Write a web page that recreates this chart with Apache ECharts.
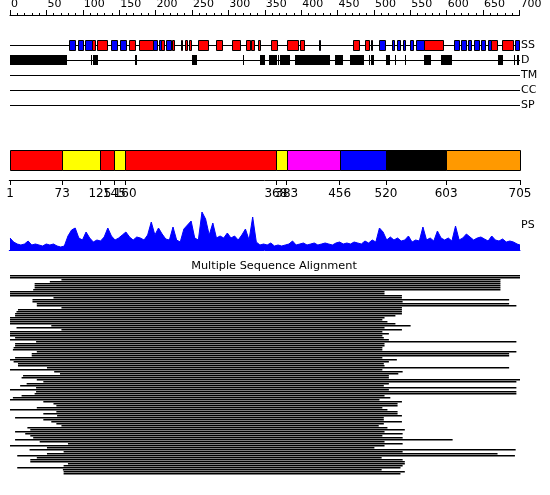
<!DOCTYPE html>
<html><head><meta charset="utf-8">
<script src="https://cdn.jsdelivr.net/npm/echarts@6/dist/echarts.min.js"></script>
<style>html,body{margin:0;padding:0;background:#fff}#c{width:550px;height:495px}</style>
</head><body><div id="c"></div>
<script>
const seqLength = 705;
const trackNames = ['SS', 'D', 'TM', 'CC', 'SP'];
const helices = [[114,118],[121,135],[165,173],[179,198],[210,213],[225,228],[237,238],[243,246],[248,251],[261,275],[286,294],[308,318],[327,332],[334,338],[343,346],[361,369],[384,398],[401,407],[475,483],[491,496],[499,500],[572,599],[665,673],[680,696]];
const strands = [[83,91],[95,102],[105,114],[141,149],[153,161],[198,204],[207,210],[217,223],[427,429],[511,519],[528,531],[535,539],[543,546],[553,557],[562,572],[614,621],[623,630],[633,638],[641,649],[651,657],[661,665],[698,704]];
const disorder = [[1,79],[113,114],[116,122],[174,176],[252,259],[322,324],[346,353],[358,369],[371,372],[374,388],[394,443],[449,461],[471,490],[496,498],[500,504],[520,526],[532,533],[546,547],[572,582],[596,611],[674,682],[697,698],[701,704]];
const domainBounds = [1,73,125,145,160,368,383,456,520,603,705];
const domainColors = ['#FF0000','#FFFF00','#FF0000','#FFFF00','#FF0000','#FFFF00','#FF00FF','#0000FF','#000000','#FF9900'];
const psStep = 5;
const psValues = [12,8,6,5,6,9,5,6,5,4, 6,5,6,4,3,4,14,20,22,12, 10,18,12,8,10,9,13,22,14,10, 12,15,18,13,10,13,12,10,15,28, 15,22,16,11,10,23,10,8,21,25, 29,12,10,38,31,15,27,12,14,12, 17,12,14,10,15,21,10,33,8,5, 6,5,7,4,5,4,5,6,9,5, 6,7,5,6,7,5,6,7,6,5, 7,8,6,7,6,8,7,6,9,7, 10,8,22,18,10,13,10,12,9,10, 14,8,10,9,23,10,12,9,19,12, 10,12,9,24,10,12,16,13,10,12, 13,11,9,14,10,9,11,8,9,8, 6,5];
const msaStarts = [1,1,72,56,35,35,35,33,1,1,1,61,32,32,38,38,72,12,10,8,8,1,1,1,1,58,10,72,1,1,1,8,1,37,8,8,6,5,38,31,31,8,1,6,12,12,52,1,
  62,70,19,17,38,47,24,15,37,1,37,35,17,5,1,47,61,65,38,1,65,47,66,8,47,58,65,72,25,29,8,22,29,33,8,42,81,1,52,28,75,52,11,38,29,29,81,75,11,74,75,75];
const msaEnds = [705,705,678,678,678,678,678,678,518,518,542,542,690,543,690,700,542,542,542,542,533,518,515,522,533,554,518,542,515,524,515,517,524,700,518,518,515,515,700,690,690,515,535,524,517,518,690,515,
  543,537,524,524,705,700,524,517,700,524,700,700,518,526,511,542,536,536,515,522,536,536,542,517,517,542,517,510,522,546,518,543,515,543,612,518,543,518,504,699,543,674,698,514,543,546,546,543,540,514,546,540];
const msaTitle = 'Multiple Sequence Alignment';

const FONT = 'DejaVu Sans';
const chart = echarts.init(document.getElementById('c'), null, {renderer: 'canvas', width: 550, height: 495});

function boxRender(fillFn, half, h, stroke) {
  return function (params, api) {
    const a = api.coord([api.value(0), api.value(2)]);
    const b = api.coord([api.value(1), api.value(2)]);
    const x1 = Math.round(a[0]);
    const w = Math.max(1, Math.round(b[0]) - x1);
    const yc = Math.round(a[1]);
    return {
      type: 'rect',
      shape: {x: stroke ? x1 + 0.5 : x1, y: stroke ? yc - half + 0.5 : yc - half, width: w, height: h},
      style: {fill: fillFn(api), stroke: stroke ? '#000' : null, lineWidth: 1}
    };
  };
}

const hidden = {show: false};
const baseX = (gi) => ({type: 'value', gridIndex: gi, min: 0, max: seqLength, show: false});

const option = {
  animation: false,
  backgroundColor: '#fff',
  textStyle: {fontFamily: FONT},
  grid: [
    {left: 10, right: 30.5, top: 5, height: 10},
    {left: 9.28, right: 30, top: 37.5, height: 75},
    {left: 9.28, right: 30, top: 150, height: 20},
    {left: 9.28, right: 30, top: 150, height: 30},
    {left: 9.28, right: 30, top: 210, height: 40},
    {left: 9.28, right: 30, top: 274, height: 200}
  ],
  xAxis: [
    {type: 'value', gridIndex: 0, min: 0, max: 700, interval: 50, position: 'bottom',
      axisLine: {show: true, lineStyle: {color: '#000', width: 1}},
      axisTick: {show: true, inside: true, length: 5, lineStyle: {color: '#000'}},
      minorTick: {show: true, splitNumber: 5, length: 2, lineStyle: {color: '#000'}},
      axisLabel: {inside: true, margin: 5, align: 'left', fontSize: 11, color: '#000', fontFamily: FONT, padding: [0, 0, 0, 1]},
      splitLine: {show: false}},
    baseX(1),
    baseX(2),
    {type: 'value', gridIndex: 3, min: 0, max: seqLength, position: 'bottom',
      axisLine: {show: true, lineStyle: {color: '#000', width: 1}},
      axisTick: {show: true, length: 5, customValues: domainBounds, lineStyle: {color: '#000'}},
      axisLabel: {margin: 8, fontSize: 12, color: '#000', fontFamily: FONT, customValues: domainBounds},
      splitLine: {show: false}},
    {type: 'value', gridIndex: 4, min: 0, max: seqLength, position: 'bottom',
      axisLine: {show: true, lineStyle: {color: '#0000FF', width: 1}},
      axisTick: hidden, axisLabel: hidden, splitLine: hidden},
    baseX(5)
  ],
  yAxis: [
    {type: 'value', gridIndex: 0, show: false},
    {type: 'category', gridIndex: 1, data: trackNames, inverse: true, position: 'right',
      axisLine: hidden, axisTick: hidden, splitLine: hidden,
      axisLabel: {margin: 1, fontSize: 11, color: '#000', fontFamily: FONT}},
    {type: 'value', gridIndex: 2, min: 0, max: 1, show: false},
    {type: 'value', gridIndex: 3, min: 0, max: 1, show: false},
    {type: 'value', gridIndex: 4, min: 0, max: 40, show: false},
    {type: 'value', gridIndex: 5, min: -0.5, max: msaStarts.length - 0.5, inverse: true, show: false}
  ],
  graphic: [
    {type: 'text', x: 521, y: 225.5, style: {text: 'PS', font: '11px "' + FONT + '"', fill: '#000', textAlign: 'left', textVerticalAlign: 'middle'}},
    {type: 'text', x: 274, y: 266, style: {text: msaTitle, font: '11.3px "' + FONT + '"', fill: '#000', textAlign: 'center', textVerticalAlign: 'middle'}}
  ],
  series: [
    {type: 'custom', xAxisIndex: 1, yAxisIndex: 1, z: 1,
      data: trackNames.map((n, i) => [1, seqLength, i]),
      encode: {x: [0, 1], y: 2},
      renderItem: function (params, api) {
        const a = api.coord([api.value(0), api.value(2)]);
        const b = api.coord([api.value(1), api.value(2)]);
        const y = Math.round(a[1]) + 0.5;
        return {type: 'line', shape: {x1: Math.round(a[0]), y1: y, x2: Math.round(b[0]), y2: y}, style: {stroke: '#000', lineWidth: 1}};
      }},
    {type: 'custom', xAxisIndex: 1, yAxisIndex: 1, z: 2,
      data: helices.map(d => [d[0], d[1], 0]), encode: {x: [0, 1], y: 2},
      renderItem: boxRender(() => '#FF0000', 5, 10, true)},
    {type: 'custom', xAxisIndex: 1, yAxisIndex: 1, z: 2,
      data: strands.map(d => [d[0], d[1], 0]), encode: {x: [0, 1], y: 2},
      renderItem: boxRender(() => '#0000FF', 5, 10, true)},
    {type: 'custom', xAxisIndex: 1, yAxisIndex: 1, z: 2,
      data: disorder.map(d => [d[0], d[1], 1]), encode: {x: [0, 1], y: 2},
      renderItem: boxRender(() => '#000000', 5, 10, false)},
    {type: 'custom', xAxisIndex: 2, yAxisIndex: 2, z: 2,
      data: domainColors.map((c, i) => [domainBounds[i], domainBounds[i + 1], i]), encode: {x: [0, 1]},
      renderItem: function (params, api) {
        const a = api.coord([api.value(0), 1]);
        const b = api.coord([api.value(1), 0]);
        const x1 = Math.round(a[0]) + 0.5;
        return {type: 'rect', shape: {x: x1, y: Math.round(a[1]) + 0.5, width: Math.round(b[0]) - Math.round(a[0]), height: Math.round(b[1]) - Math.round(a[1])},
          style: {fill: domainColors[api.value(2)], stroke: '#000', lineWidth: 1}};
      }},
    {type: 'line', xAxisIndex: 4, yAxisIndex: 4, z: 2, showSymbol: false, symbol: 'none',
      data: psValues.map((v, i) => [Math.min(1 + i * psStep, seqLength), v]),
      lineStyle: {color: '#0000FF', width: 1}, areaStyle: {color: '#0000FF', opacity: 1}},
    {type: 'custom', xAxisIndex: 5, yAxisIndex: 5, z: 2,
      data: msaStarts.map((s, i) => [s, msaEnds[i], i]), encode: {x: [0, 1], y: 2},
      renderItem: function (params, api) {
        const a = api.coord([api.value(0), api.value(2)]);
        const b = api.coord([api.value(1), api.value(2)]);
        return {type: 'rect', shape: {x: a[0], y: Math.round(a[1]), width: b[0] - a[0], height: 1.4}, style: {fill: '#000'}};
      }}
  ]
};
chart.setOption(option);
</script>
</body></html>
